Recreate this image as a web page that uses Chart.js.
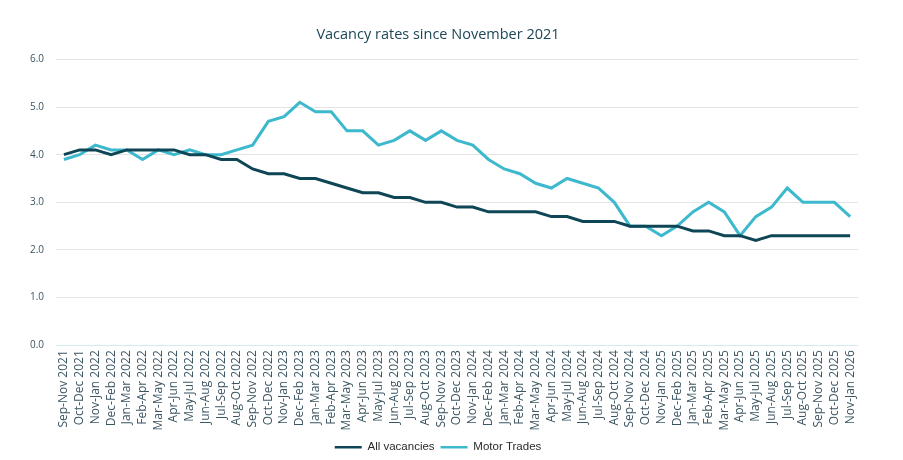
<!DOCTYPE html>
<html lang="en">
<head>
    <meta charset="UTF-8">
    <title>Vacancy rates since November 2021</title>
    <script src="https://cdn.jsdelivr.net/npm/chart.js"></script>
    <style>
        body { margin: 0; background: #fff; }
        #wrap { width: 903px; height: 460px; position: relative; }
    </style>
</head>
<body>
    <div id="wrap"><canvas id="vacancyChart"></canvas></div>
    <script>
        const periods = [
            'Sep-Nov 2021', 'Oct-Dec 2021', 'Nov-Jan 2022', 'Dec-Feb 2022', 'Jan-Mar 2022', 'Feb-Apr 2022',
            'Mar-May 2022', 'Apr-Jun 2022', 'May-Jul 2022', 'Jun-Aug 2022', 'Jul-Sep 2022', 'Aug-Oct 2022',
            'Sep-Nov 2022', 'Oct-Dec 2022', 'Nov-Jan 2023', 'Dec-Feb 2023', 'Jan-Mar 2023', 'Feb-Apr 2023',
            'Mar-May 2023', 'Apr-Jun 2023', 'May-Jul 2023', 'Jun-Aug 2023', 'Jul-Sep 2023', 'Aug-Oct 2023',
            'Sep-Nov 2023', 'Oct-Dec 2023', 'Nov-Jan 2024', 'Dec-Feb 2024', 'Jan-Mar 2024', 'Feb-Apr 2024',
            'Mar-May 2024', 'Apr-Jun 2024', 'May-Jul 2024', 'Jun-Aug 2024', 'Jul-Sep 2024', 'Aug-Oct 2024',
            'Sep-Nov 2024', 'Oct-Dec 2024', 'Nov-Jan 2025', 'Dec-Feb 2025', 'Jan-Mar 2025', 'Feb-Apr 2025',
            'Mar-May 2025', 'Apr-Jun 2025', 'May-Jul 2025', 'Jun-Aug 2025', 'Jul-Sep 2025', 'Aug-Oct 2025',
            'Sep-Nov 2025', 'Oct-Dec 2025', 'Nov-Jan 2026'
        ];

        const allVacancies = [
            4.0, 4.1, 4.1, 4.0, 4.1, 4.1, 4.1, 4.1, 4.0, 4.0, 3.9, 3.9,
            3.7, 3.6, 3.6, 3.5, 3.5, 3.4, 3.3, 3.2, 3.2, 3.1, 3.1, 3.0,
            3.0, 2.9, 2.9, 2.8, 2.8, 2.8, 2.8, 2.7, 2.7, 2.6, 2.6, 2.6,
            2.5, 2.5, 2.5, 2.5, 2.4, 2.4, 2.3, 2.3, 2.2, 2.3, 2.3, 2.3,
            2.3, 2.3, 2.3
        ];

        const motorTrades = [
            3.9, 4.0, 4.2, 4.1, 4.1, 3.9, 4.1, 4.0, 4.1, 4.0, 4.0, 4.1,
            4.2, 4.7, 4.8, 5.1, 4.9, 4.9, 4.5, 4.5, 4.2, 4.3, 4.5, 4.3,
            4.5, 4.3, 4.2, 3.9, 3.7, 3.6, 3.4, 3.3, 3.5, 3.4, 3.3, 3.0,
            2.5, 2.5, 2.3, 2.5, 2.8, 3.0, 2.8, 2.3, 2.7, 2.9, 3.3, 3.0,
            3.0, 3.0, 2.7
        ];

        const yTicks = [0, 1, 2, 3, 4, 5, 6];

        const fontFamily = "'Open Sans', sans-serif";

        const ctx = document.getElementById('vacancyChart').getContext('2d');
        const chart = new Chart(ctx, {
            type: 'line',
            data: {
                labels: periods,
                datasets: [
                    {
                        label: 'All vacancies',
                        data: allVacancies,
                        borderColor: '#0e4656',
                        backgroundColor: '#0e4656',
                        borderWidth: 3,
                        pointRadius: 0,
                        tension: 0
                    },
                    {
                        label: 'Motor Trades',
                        data: motorTrades,
                        borderColor: '#3cb9cd',
                        backgroundColor: '#3cb9cd',
                        borderWidth: 3,
                        pointRadius: 0,
                        tension: 0
                    }
                ]
            },
            options: {
                responsive: true,
                maintainAspectRatio: false,
                animation: false,
                layout: { padding: { left: 18, right: 45, top: 8, bottom: -3 } },
                plugins: {
                    title: {
                        display: true,
                        text: 'Vacancy rates since November 2021',
                        color: '#1d4757',
                        font: { family: fontFamily, size: 14.5, weight: 'normal' },
                        padding: { top: 18, bottom: 16 }
                    },
                    legend: {
                        position: 'bottom',
                        labels: {
                            usePointStyle: true,
                            pointStyle: 'line',
                            pointStyleWidth: 27,
                            color: '#2a2a2a',
                            font: { family: "'Liberation Sans', Arial, sans-serif", size: 11.5 },
                            padding: 6,
                            generateLabels: c => Chart.defaults.plugins.legend.labels.generateLabels(c)
                                .map(item => Object.assign(item, { lineWidth: 2.5 }))
                        }
                    },
                    tooltip: { enabled: false }
                },
                scales: {
                    y: {
                        min: 0,
                        max: 6,
                        afterBuildTicks: axis => { axis.ticks = yTicks.map(v => ({ value: v })); },
                        ticks: {
                            callback: v => Number(v).toFixed(1),
                            color: '#3b5561',
                            font: { family: fontFamily, size: 10 },
                            padding: 12
                        },
                        grid: {
                            color: c => c.tick && c.tick.value === 0 ? '#d4ebf0' : '#e4e4e4',
                            drawTicks: false
                        },
                        border: { display: false }
                    },
                    x: {
                        offset: true,
                        ticks: {
                            autoSkip: false,
                            maxRotation: 90,
                            minRotation: 90,
                            color: '#3b5561',
                            font: { family: fontFamily, size: 12 },
                            padding: 5
                        },
                        grid: { display: false, drawTicks: false },
                        border: { display: false }
                    }
                }
            }
        });
    </script>
</body>
</html>
